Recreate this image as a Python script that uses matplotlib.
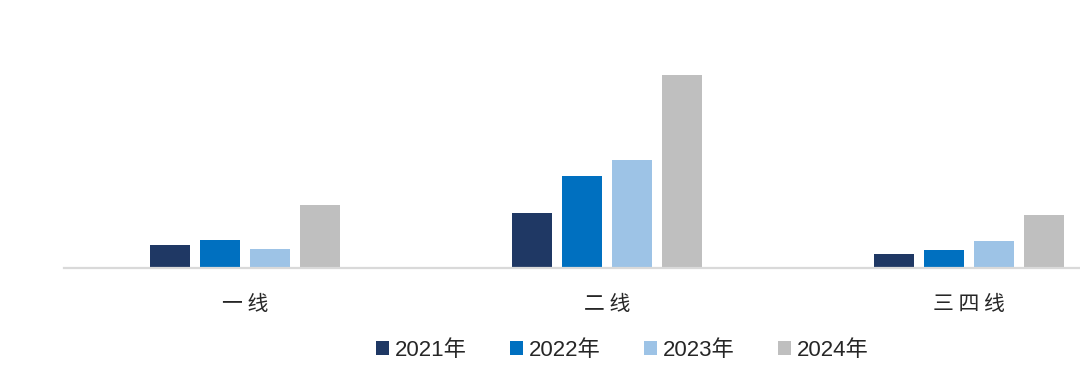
import numpy as np
import matplotlib
matplotlib.use("Agg")
from matplotlib import pyplot as plt

plt.rcParams['font.family'] = ['Liberation Sans', 'Noto Sans CJK SC', 'DejaVu Sans']

categories = ["一线", "二线", "三四线"]
years = ["2021年", "2022年", "2023年", "2024年"]
v2021 = [22.7, 54.6, 14.0]
v2022 = [28.4, 92.0, 18.0]
v2023 = [19.4, 108.0, 27.0]
v2024 = [63.0, 192.6, 53.0]
series = [v2021, v2022, v2023, v2024]
colors = ["#1f3864", "#0070c0", "#9dc3e6", "#bfbfbf"]

fig = plt.figure(figsize=(10.8, 3.7), dpi=100)
# axes spans x=64..1080 px, baseline at y=268 px
ax = fig.add_axes([64 / 1080, (370 - 268) / 370, 1016 / 1080, 250 / 370])

x = np.arange(len(categories))
step = 0.138
width = 0.109
for i, (vals, c) in enumerate(zip(series, colors)):
    ax.bar(x + (i - 1.5) * step, vals, width=width, color=c, label=years[i])

ax.set_xlim(-0.5, 2.5 - 70 / 362)
ax.set_ylim(0, 250)
ax.set_yticks([])
ax.set_xticks(x)
# spaced characters, like the original labels
ax.set_xticklabels([" ".join(c) for c in categories], fontsize=15,
                   family=['Noto Sans CJK SC'])
ax.tick_params(axis='x', length=0, pad=18, colors='#262626')
for s in ['top', 'right', 'left']:
    ax.spines[s].set_visible(False)
ax.spines['bottom'].set_color('#d9d9d9')
ax.spines['bottom'].set_linewidth(1.6)

fig.legend(loc='center', bbox_to_anchor=(622 / 1080, 1 - 350 / 370), ncol=4,
           frameon=False, fontsize=16, handlelength=0.6, handleheight=0.6,
           handletextpad=0.25, columnspacing=1.95, labelcolor='#262626')

fig.savefig("out.png", dpi=100)
